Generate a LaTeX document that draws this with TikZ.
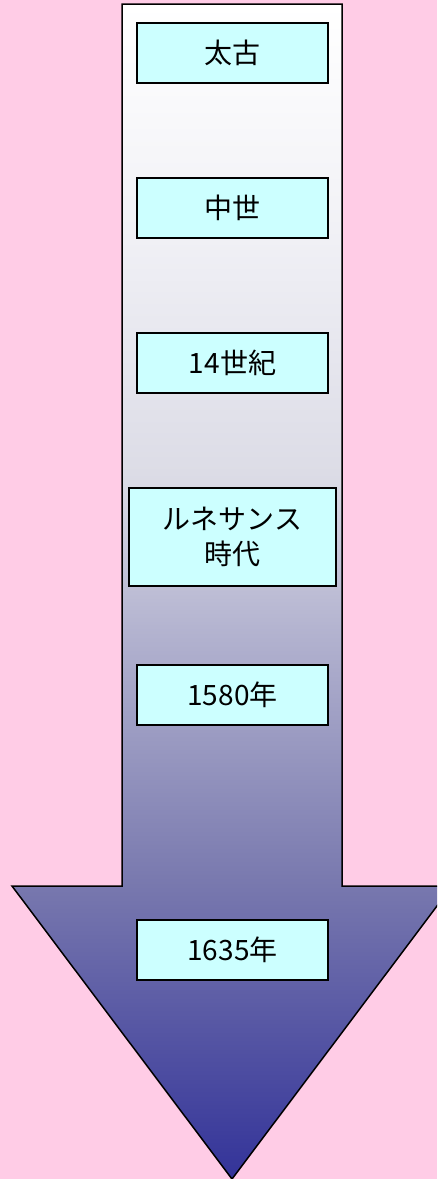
\documentclass[tikz,border=0pt]{standalone}
\usepackage{fontspec}
\newfontfamily\jpfont{Noto Sans CJK JP}
\definecolor{bgpink}{RGB}{255,204,230}
\definecolor{boxcyan}{RGB}{204,255,255}
\pgfdeclareverticalshading{arrowshade}{100bp}{
  color(0bp)=(rgb,255:red,51;green,51;blue,153);
  color(25bp)=(rgb,255:red,51;green,51;blue,153);
  color(37.5bp)=(rgb,255:red,120;green,120;blue,174);
  color(48.5bp)=(rgb,255:red,180;green,180;blue,208);
  color(55bp)=(rgb,255:red,220;green,220;blue,230);
  color(60bp)=(rgb,255:red,230;green,230;blue,238);
  color(66.5bp)=(rgb,255:red,243;green,243;blue,247);
  color(75bp)=(rgb,255:red,255;green,255;blue,255);
  color(100bp)=(rgb,255:red,255;green,255;blue,255)}
\tikzset{
  era/.style={draw=black, line width=1.5pt, fill=boxcyan, rectangle,
    minimum width=191pt, minimum height=60pt, inner sep=0pt,
    font=\jpfont\fontsize{28}{35}\selectfont, align=center, text=black},
  bigarrow/.style={draw=black, line width=1.5pt, shading=arrowshade}
}
\begin{document}
\begin{tikzpicture}[x=1pt,y=-1pt]
\fill[bgpink] (0,0) rectangle (437,1179);
\useasboundingbox (0,0) rectangle (437,1179);
\begin{scope}
\clip (0,0) rectangle (437,1179);
\path[bigarrow] (122,4) -- (342,4) -- (342,886) -- (452,886) -- (232,1179) -- (12,886) -- (122,886) -- cycle;
\end{scope}
\node[era] (taiko) at (232.5,53) {太古};
\node[era] (chusei) at (232.5,208) {中世};
\node[era] (c14) at (232.5,363) {14世紀};
\node[era, minimum width=207pt, minimum height=98pt] (renai) at (232.5,537) {ルネサンス\\時代};
\node[era] (y1580) at (232.5,695) {1580年};
\node[era] (y1635) at (232.5,950) {1635年};
\end{tikzpicture}
\end{document}
